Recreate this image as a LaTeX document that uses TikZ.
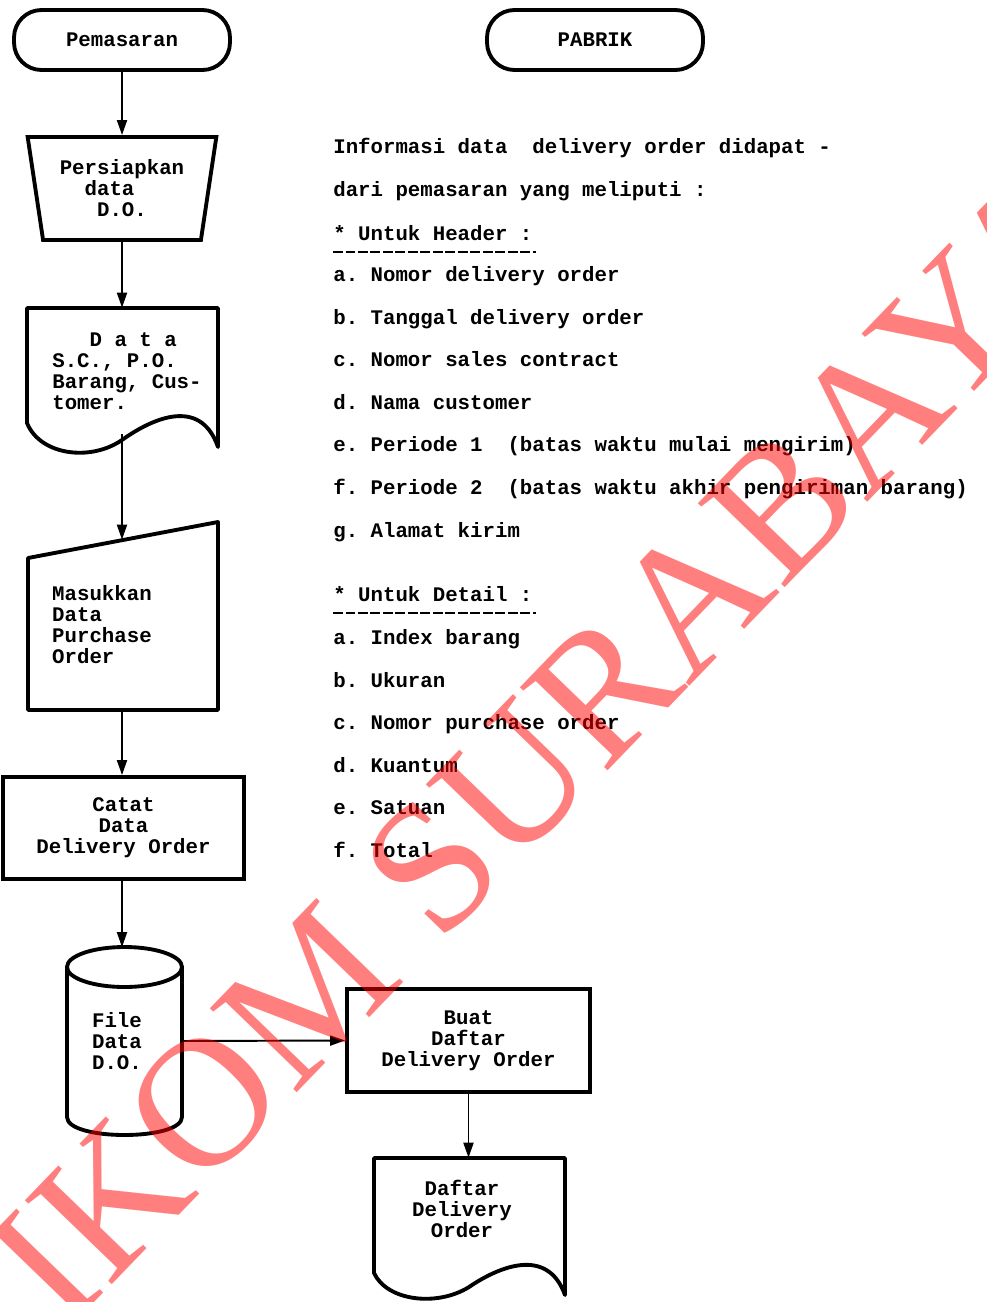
\documentclass[tikz,border=0pt]{standalone}
\usepackage{fontspec}
\setmonofont{Liberation Mono}
\newfontfamily\stampfont{Liberation Serif}
\usetikzlibrary{arrows.meta,shapes.geometric}

\begin{document}
\begin{tikzpicture}[x=0.02cm, y=-0.02cm,
    every node/.style={
        inner sep=0pt,
        font=\ttfamily\bfseries\fontsize{11.8}{11.95}\selectfont
    },
    box/.style={draw, line width=2.2pt},
    outline/.style={line width=2.2pt, line join=round},
    flow/.style={-{Triangle[length=0.3cm, width=0.2cm]}, line width=1.1pt},
    listitem/.style={anchor=base west},
    underline/.style={line width=1.2pt, dash pattern=on 0.2cm off 0.05cm}
]
    \useasboundingbox (0,0) rectangle (987,1302);
    \clip (0,0) rectangle (987,1302);

    \node (pemasaran) [box, rounded corners=0.55cm, minimum width=4.32cm, minimum height=1.2cm, shift={(122,40)}]
    {
        Pemasaran
    };
    \node (pabrik) [box, rounded corners=0.55cm, minimum width=4.32cm, minimum height=1.2cm, shift={(595,40)}]
    {
        PABRIK
    };

    \node (persiapkan) [box, trapezium, shape border rotate=180, trapezium stretches=true,
        trapezium angle=78, minimum width=3.78cm, minimum height=2.06cm, align=left, shift={(122,188.5)}]
    {
        Persiapkan\\\phantom{xx}data\\\phantom{xxx}D.O.
    };

    \node (data_sc) [minimum width=3.82cm, minimum height=2.52cm, align=left, shift={(127,371)}]
    {
        \phantom{xxx}D a t a\\S.C., P.O.\\Barang, Cus-\\tomer.
    };
    \draw[outline] (27,308) -- (218,308) -- (218,447)
        .. controls (200,395) and (150,420) .. (122,440)
        .. controls (90,462) and (40,455) .. (27,423) -- cycle;

    \node (masukkan) [minimum width=3.8cm, minimum height=3.4cm, align=left, shift={(102,625)}]
    {
        Masukkan\\Data\\Purchase\\Order
    };
    \draw[outline] (28,558) -- (218,522) -- (218,710) -- (28,710) -- cycle;

    \node (catat) [box, minimum width=4.82cm, minimum height=2.04cm, align=center, shift={(123.5,828)}]
    {
        Catat\\Data\\Delivery Order
    };

    \node (file_do) [minimum width=2.6cm, minimum height=3.74cm, align=left, shift={(117,1041)}]
    {
        File\\Data\\D.O.
    };
    \draw[outline] (67,967) -- (67,1117) .. controls (67,1141) and (182,1141) .. (182,1117) -- (182,967);
    \draw[outline] (124.5,967) ellipse [x radius=57.5, y radius=20];

    \node (buat) [box, minimum width=4.86cm, minimum height=2.06cm, align=center, shift={(468.5,1040.5)}]
    {
        Buat\\Daftar\\Delivery Order
    };

    \node (daftar) [minimum width=3.82cm, minimum height=2.04cm, align=center, shift={(462,1209)}]
    {
        Daftar\\Delivery\\Order
    };
    \draw[outline] (374,1158) -- (565,1158) -- (565,1295)
        .. controls (547,1245) and (497,1268) .. (469,1287)
        .. controls (437,1307) and (387,1301) .. (374,1273) -- cycle;

    \draw[flow] (pemasaran) -- (persiapkan);
    \draw[flow] (persiapkan.south) -- (persiapkan.south |- data_sc.north);
    \draw[flow] (data_sc.south -| persiapkan) -- (masukkan.north -| persiapkan);
    \draw[flow] (masukkan.south -| persiapkan) -- (catat.north -| persiapkan);
    \draw[flow] (catat.south -| persiapkan) -- (file_do.north -| persiapkan);
    \draw[flow] (file_do.east) -- (buat.west);
    \draw[flow] (buat.south) -- (buat.south |- daftar.north);

    % keterangan data delivery order
    \node (info_line1) [listitem, shift={(333,153)}] {Informasi data\ \ delivery order didapat -};
    \node (info_line2) [listitem, shift={(333,196)}] {dari pemasaran yang meliputi :};

    \node (hdr_title) [listitem, shift={(333,240)}] {* Untuk Header :};
    \draw[underline] ([yshift=-0.24cm]hdr_title.base west) -- ([yshift=-0.24cm, xshift=0.06cm]hdr_title.base east);
    \node (hdr_a) [listitem, shift={(333,281)}] {a. Nomor delivery order};
    \node (hdr_b) [listitem, shift={(333,324)}] {b. Tanggal delivery order};
    \node (hdr_c) [listitem, shift={(333,366)}] {c. Nomor sales contract};
    \node (hdr_d) [listitem, shift={(333,409)}] {d. Nama customer};
    \node (hdr_e) [listitem, shift={(333,451)}] {e. Periode 1\ \ (batas waktu mulai mengirim)};
    \node (hdr_f) [listitem, shift={(333,494)}] {f. Periode 2\ \ (batas waktu akhir pengiriman barang)};
    \node (hdr_g) [listitem, shift={(333,537)}] {g. Alamat kirim};

    \node (dtl_title) [listitem, shift={(333,601)}] {* Untuk Detail :};
    \draw[underline] ([yshift=-0.24cm]dtl_title.base west) -- ([yshift=-0.24cm, xshift=0.06cm]dtl_title.base east);
    \node (dtl_a) [listitem, shift={(333,644)}] {a. Index barang};
    \node (dtl_b) [listitem, shift={(333,687)}] {b. Ukuran};
    \node (dtl_c) [listitem, shift={(333,729)}] {c. Nomor purchase order};
    \node (dtl_d) [listitem, shift={(333,772)}] {d. Kuantum};
    \node (dtl_e) [listitem, shift={(333,814)}] {e. Satuan};
    \node (dtl_f) [listitem, shift={(333,857)}] {f. Total};

    % watermark
    \node (stamp) [shift={(474,823)}, rotate=46, text=red, text opacity=0.5,
        font=\stampfont\fontsize{105}{105}\selectfont]
    {
        STIKOM SURABAYA
    };

\end{tikzpicture}
\end{document}
